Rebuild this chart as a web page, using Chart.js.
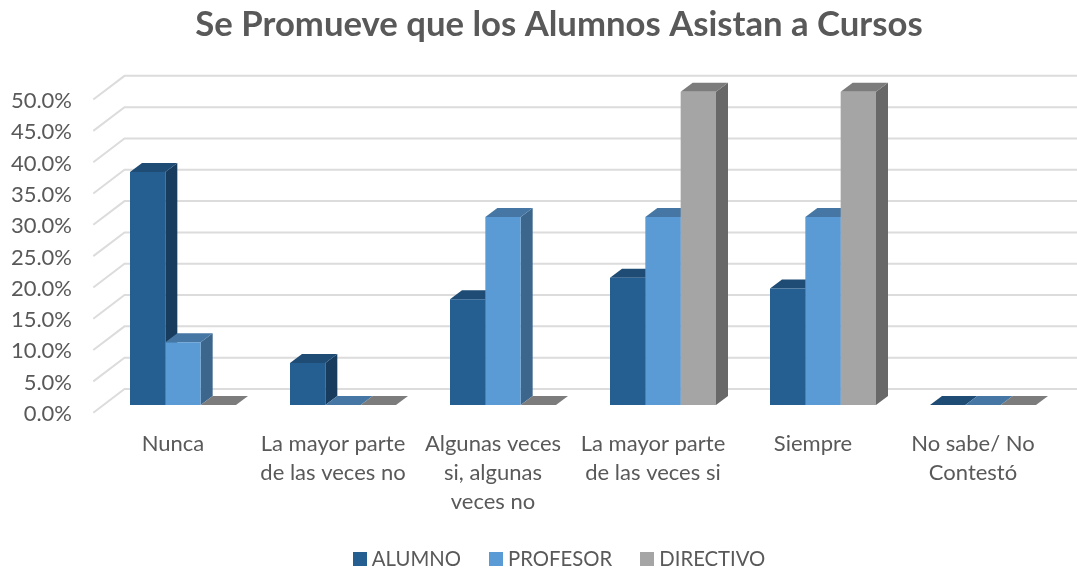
<!DOCTYPE html>
<html><head><meta charset="utf-8">
<style>html,body{margin:0;padding:0;background:#fff}canvas{display:block}</style>
<script src="https://cdn.jsdelivr.net/npm/chart.js@4/dist/chart.umd.min.js"></script>
</head><body><canvas id="c" width="1077" height="571"></canvas>
<script>
const titleText = 'Se Promueve que los Alumnos Asistan a Cursos';
const categories = ['Nunca', ['La mayor parte','de las veces no'], ['Algunas veces','si, algunas','veces no'], ['La mayor parte','de las veces si'], 'Siempre', ['No sabe/ No','Contestó']];
const alumno   = [37.2, 6.7, 16.9, 20.3, 18.6, 0];
const profesor = [10, 0, 30, 30, 30, 0];
const directivo = [0, 0, 0, 50, 50, 0];
const seriesNames = ['ALUMNO', 'PROFESOR', 'DIRECTIVO'];

const FONT = 'Lato, Carlito, sans-serif', TXT = '#595959';
const front = ['#255E91', '#5B9BD5', '#A5A5A5'];
const topC  = ['#1E4C75', '#4677A4', '#7C7C7C'];
const sideC = ['#173C5D', '#3D668C', '#686868'];
const BAR_DX = 12, BAR_DY = -9;

function swatch(color){
  const k = document.createElement('canvas'); k.width = 14; k.height = 14;
  const g = k.getContext('2d'); g.fillStyle = color; g.fillRect(0,0,14,14);
  return k;
}
const swatches = front.map(swatch);

const depth3d = {
  id: 'depth3d',
  afterLayout(chart){
    const shift = (b, d) => { b.left += d; b.right += d; };
    shift(chart.titleBlock, 27.5);
    shift(chart.legend, 30);
  },
  beforeDatasetsDraw(chart){
    const {ctx, chartArea: a, scales:{y}} = chart;
    ctx.save();
    ctx.strokeStyle = '#DCDCDC'; ctx.lineWidth = 2;
    y.ticks.forEach(t => {
      const p = y.getPixelForValue(t.value), by = p - 16;
      ctx.beginPath();
      ctx.moveTo(a.left - 9.7, by + 23.7);
      ctx.lineTo(a.left + 21.5, by);
      ctx.lineTo(chart.width, by);
      ctx.stroke();
    });
    chart.data.datasets.forEach((ds, i) => {
      chart.getDatasetMeta(i).data.forEach(b => {
        const l = b.x - b.width/2, r = b.x + b.width/2, t = b.y, bt = b.base;
        if (bt - t > 0.5) {
          ctx.fillStyle = sideC[i];
          ctx.beginPath();
          ctx.moveTo(r, t); ctx.lineTo(r + BAR_DX, t + BAR_DY);
          ctx.lineTo(r + BAR_DX, bt + BAR_DY); ctx.lineTo(r, bt);
          ctx.closePath(); ctx.fill();
        }
        ctx.fillStyle = topC[i];
        ctx.beginPath();
        ctx.moveTo(l, t); ctx.lineTo(l + BAR_DX, t + BAR_DY);
        ctx.lineTo(r + BAR_DX, t + BAR_DY); ctx.lineTo(r, t);
        ctx.closePath(); ctx.fill();
      });
    });
    ctx.restore();
  }
};

new Chart(document.getElementById('c'), {
  type: 'bar',
  data: {
    labels: categories,
    datasets: [alumno, profesor, directivo].map((d, i) => ({
      label: seriesNames[i], data: d, backgroundColor: front[i], borderWidth: 0,
      categoryPercentage: 0.6625, barPercentage: 1
    }))
  },
  options: {
    responsive: false, animation: false, events: [],
    layout: { autoPadding: false, padding: { left: 0, right: 14, top: 0, bottom: 0 } },
    plugins: {
      tooltip: { enabled: false },
      title: { display: true, text: titleText, color: TXT,
        font: { family: FONT, size: 34.7, weight: 'bold', lineHeight: 1.2 },
        padding: { top: 4.2, bottom: 46 } },
      legend: { position: 'bottom', maxHeight: 55,
        labels: { color: TXT, font: { family: FONT, size: 20.3 }, padding: 33,
          usePointStyle: true, pointStyleWidth: 4,
          generateLabels(chart){
            return Chart.defaults.plugins.legend.labels.generateLabels(chart)
              .map((it, i) => Object.assign(it, { pointStyle: swatches[i] }));
          } } }
    },
    scales: {
      x: {
        grid: { display: false, drawTicks: false }, border: { display: false },
        afterFit(s){ s.height = 111; },
        ticks: { color: TXT, font: { family: FONT, size: 22, lineHeight: 1.318 },
          padding: 24.5, labelOffset: -10, maxRotation: 0, autoSkip: false }
      },
      y: {
        min: 0, max: 50,
        grid: { display: false, drawTicks: false }, border: { display: false },
        afterFit(s){ s.width = 103; },
        ticks: { stepSize: 5, color: TXT, font: { family: FONT, size: 22 },
          padding: 31, labelOffset: 9, callback: v => v.toFixed(1) + '%' }
      }
    }
  },
  plugins: [depth3d]
});
</script></body></html>
